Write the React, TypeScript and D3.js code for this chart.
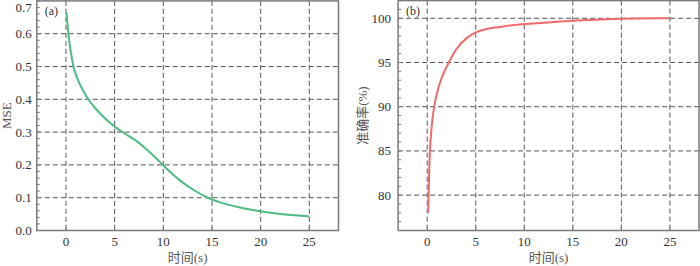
import React from "react";
import * as d3 from "d3";

const W = 700;
const H = 266;

// Panel (a): MSE vs time
const mseTime = [0.05, 0.1, 0.17, 0.24, 0.45, 0.75, 1.0, 1.5, 2.0, 2.2, 3, 4, 5, 6, 7, 8, 9, 9.93, 11, 12, 13, 14.46, 16, 18, 20, 22, 24, 25];
const mseValue = [0.665, 0.645, 0.625, 0.6, 0.55, 0.5, 0.474, 0.44, 0.413, 0.403, 0.372, 0.341, 0.316, 0.296, 0.279, 0.255, 0.228, 0.2, 0.17, 0.145, 0.125, 0.1, 0.083, 0.069, 0.058, 0.05, 0.045, 0.043];

// Panel (b): accuracy vs time
const accTime = [0.1, 0.12, 0.14, 0.2, 0.28, 0.4, 0.55, 0.72, 1.0, 1.5, 2.0, 2.5, 3, 4, 5, 6, 7, 8, 10, 12, 15, 18, 20, 22, 25];
const accValue = [78, 79, 80, 82.5, 85, 87, 88.7, 90, 91.5, 93.3, 94.5, 95.6, 96.5, 97.7, 98.4, 98.75, 98.95, 99.1, 99.35, 99.5, 99.73, 99.87, 99.95, 99.98, 100];

const xTicks = [0, 5, 10, 15, 20, 25];
const mseTicks = [0.0, 0.1, 0.2, 0.3, 0.4, 0.5, 0.6, 0.7];
const accTicks = [80, 85, 90, 95, 100];

const FONT = "'Liberation Serif', 'Times New Roman', 'Noto Sans CJK SC', serif";
const GRID = "#555";
const FRAME = "#7a7a7a";
const TEXT = "#333";

type PanelProps = {
  x0: number; x1: number; y0: number; y1: number;
  yDomain: [number, number];
  yTicks: number[];
  minorStep: number;
  fmt: (v: number) => string;
  xs: number[]; ys: number[];
  color: string;
  label: string;
  yTitle: string;
  yTitleX: number;
  tickGap: number;
  curve: d3.CurveFactory;
};

function Panel(p: PanelProps) {
  const x = d3.scaleLinear().domain([-3, 28]).range([p.x0, p.x1]);
  const y = d3.scaleLinear().domain(p.yDomain).range([p.y0, p.y1]);
  const pts = p.xs.map((t, i) => [t, p.ys[i]] as [number, number]);
  const line = d3.line<[number, number]>().x(d => x(d[0])).y(d => y(d[1])).curve(p.curve);
  const minor = d3.range(
    Math.ceil(p.yDomain[0] / p.minorStep),
    Math.floor(p.yDomain[1] / p.minorStep + 1e-9) + 1
  ).map(k => k * p.minorStep);
  const cy = (p.y0 + p.y1) / 2;
  return (
    <g fontFamily={FONT}>
      {xTicks.map(t => (
        <line key={"gx" + t} x1={x(t)} x2={x(t)} y1={p.y1} y2={p.y0} stroke={GRID} strokeDasharray="5,3" strokeWidth={1} />
      ))}
      {p.yTicks.filter(t => y(t) > p.y1 + 2 && y(t) < p.y0 - 2).map(t => (
        <line key={"gy" + t} x1={p.x0} x2={p.x1} y1={y(t)} y2={y(t)} stroke={GRID} strokeDasharray="5,3" strokeWidth={1} />
      ))}
      {minor.map(t => (
        <line key={"mt" + t} x1={p.x0} x2={p.x0 + 3} y1={y(t)} y2={y(t)} stroke={FRAME} strokeWidth={1} />
      ))}
      {xTicks.map(t => (
        <line key={"xt" + t} x1={x(t)} x2={x(t)} y1={p.y0} y2={p.y0 - 3} stroke={FRAME} strokeWidth={1} />
      ))}
      <path d={line(pts) || ""} fill="none" stroke={p.color} strokeWidth={2} strokeLinejoin="round" />
      <rect x={p.x0} y={p.y1} width={p.x1 - p.x0} height={p.y0 - p.y1} fill="none" stroke={FRAME} strokeWidth={1.5} />
      {p.yTicks.map(t => (
        <text key={"yl" + t} x={p.x0 - p.tickGap} y={Math.max(y(t), 7)} dy="0.35em" textAnchor="end" fontSize={13} fill={TEXT}>{p.fmt(t)}</text>
      ))}
      {xTicks.map(t => (
        <text key={"xl" + t} x={x(t)} y={246} textAnchor="middle" fontSize={13} fill={TEXT}>{t}</text>
      ))}
      <text x={(p.x0 + p.x1) / 2} y={262} textAnchor="middle" fontSize={13} fill="#555">时间(s)</text>
      <text transform={`translate(${p.yTitleX},${cy}) rotate(-90)`} textAnchor="middle" fontSize={13} fill="#555">{p.yTitle}</text>
      <text x={p.x0 + 8} y={15} fontSize={12} fill={TEXT}>{p.label}</text>
    </g>
  );
}

export default function App() {
  return (
    <svg width={W} height={H} style={{ position: "absolute", left: 0, top: 0, background: "#fff" }}>
      <rect width={W} height={H} fill="#fff" />
      <Panel
        x0={36.8} x1={338.5} y0={230.5} y1={0.9}
        yDomain={[0, 0.7]} yTicks={mseTicks} minorStep={0.02}
        fmt={v => v.toFixed(1)}
        xs={mseTime} ys={mseValue} color="#4dbb84"
        label="(a)" yTitle="MSE" yTitleX={11} tickGap={5}
        curve={d3.curveBasis}
      />
      <Panel
        x0={398.1} x1={699} y0={230.5} y1={0.6}
        yDomain={[76, 102]} yTicks={accTicks} minorStep={1}
        fmt={v => String(v)}
        xs={accTime} ys={accValue} color="#ef6a6a"
        label="(b)" yTitle="准确率(%)" yTitleX={367} tickGap={7}
        curve={d3.curveMonotoneX}
      />
    </svg>
  );
}
